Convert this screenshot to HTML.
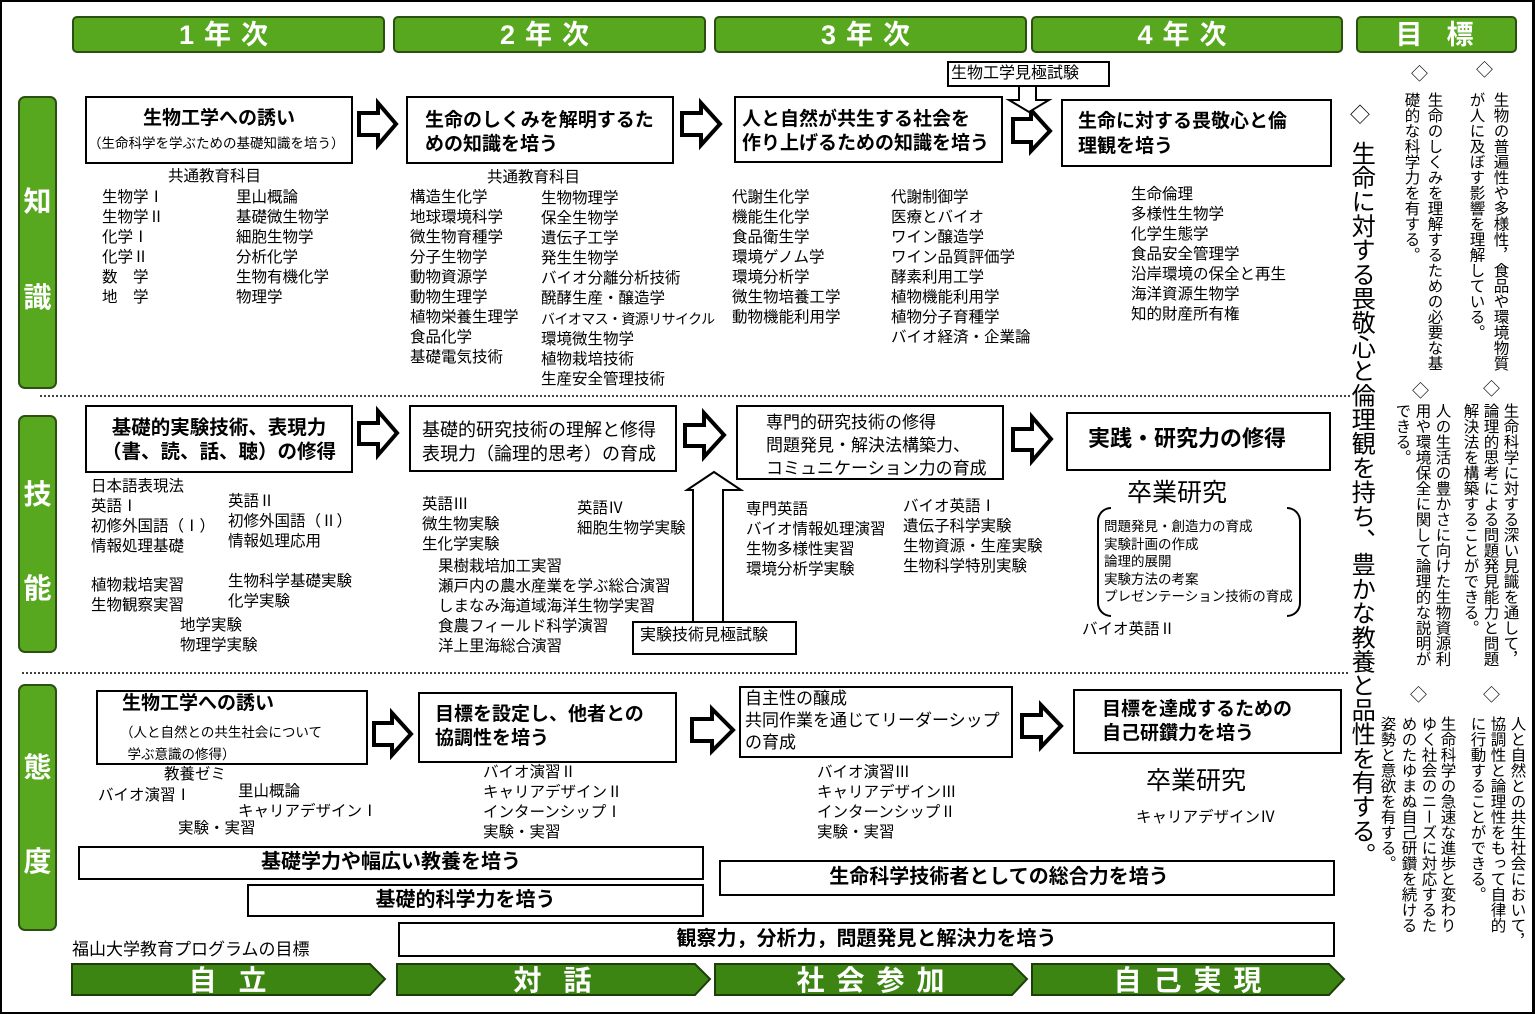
<!DOCTYPE html>
<html><head><meta charset="utf-8">
<style>
*{margin:0;padding:0;box-sizing:border-box}
body{width:1535px;height:1014px;position:relative;background:#fff;font-family:"Liberation Sans","Noto Sans CJK JP",sans-serif;color:#000;overflow:hidden}
.t{position:absolute;white-space:nowrap;line-height:1}
.l{position:absolute;white-space:nowrap;line-height:20px;font-size:15.5px;margin-top:1px}
.b{position:absolute;border:2px solid #000;background:#fff}
.hd{position:absolute;top:16px;height:37px;background:#58a81f;border:2px solid #2c4f12;border-radius:5px;color:#fff;font-size:27px;font-weight:bold;text-align:center;line-height:35px;letter-spacing:10px}
.side{position:absolute;left:18px;width:39px;background:#58a81f;border:2px solid #2c4f12;border-radius:7px;color:#fff;font-size:28px;font-weight:bold;text-align:center}
.v{position:absolute;writing-mode:vertical-rl;white-space:nowrap;font-size:15.5px;line-height:1}
.bt{font-weight:bold}
</style></head><body>
<div style="position:absolute;left:0;top:0;width:1535px;height:1014px;border:2px solid #000;border-right-width:3px"></div>

<div class="hd" style="left:72px;width:313px">1年次</div>
<div class="hd" style="left:393px;width:313px">2年次</div>
<div class="hd" style="left:714px;width:313px">3年次</div>
<div class="hd" style="left:1031px;width:312px">4年次</div>
<div class="hd" style="left:1356px;width:161px;letter-spacing:24px;padding-left:20px">目標</div>

<div class="side" style="top:96px;height:293px"><div style="position:absolute;top:82px;width:100%">知</div><div style="position:absolute;top:178px;width:100%">識</div></div>
<div class="side" style="top:415px;height:238px"><div style="position:absolute;top:56px;width:100%">技</div><div style="position:absolute;top:150px;width:100%">能</div></div>
<div class="side" style="top:684px;height:247px"><div style="position:absolute;top:60px;width:100%">態</div><div style="position:absolute;top:154px;width:100%">度</div></div>

<svg width="1535" height="1014" style="position:absolute;left:0;top:0">
<line x1="40" y1="396" x2="1350" y2="396" stroke="#000" stroke-width="1.5" stroke-dasharray="2,2"/>
<line x1="22" y1="673" x2="1350" y2="673" stroke="#000" stroke-width="1.5" stroke-dasharray="2,2"/>
<g fill="#fff" stroke="#000" stroke-width="4" stroke-linejoin="miter">
<polygon points="359,113 378,113 378,103 396,124 378,145 378,135 359,135"/>
<polygon points="682,113 701,113 701,103 720,124 701,145 701,135 682,135"/>
<polygon points="1013,119 1031,119 1031,110 1050,131 1031,151 1031,142 1013,142"/>
<polygon points="359,423 378,423 378,411 397,433 378,455 378,444 359,444"/>
<polygon points="685,425 704,425 704,413 724,435 704,457 704,446 685,446"/>
<polygon points="1013,429 1032,429 1032,417 1051,439 1032,461 1032,450 1013,450"/>
<polygon points="374,723 392,723 392,713 411,734 392,755 392,745 374,745"/>
<polygon points="692,719 712,719 712,709 733,730 712,751 712,741 692,741"/>
<polygon points="1022,715 1041,715 1041,705 1061,726 1041,747 1041,737 1022,737"/>
</g>
<g fill="#fff" stroke="#000" stroke-width="2">
<polygon points="1019,86 1036,86 1036,100 1049,100 1029,112 1009,100 1019,100"/>
<polygon points="693,622 693,490 687,490 714,472 741,490 723,490 723,622"/>
</g>
<g fill="#3d8512" stroke="#1d3d0a" stroke-width="2">
<polygon points="72,964 370,964 385,979 370,995 72,995"/>
<polygon points="397,964 695,964 710,979 695,995 397,995"/>
<polygon points="715,964 1012,964 1027,979 1012,995 715,995"/>
<polygon points="1032,964 1329,964 1344,979 1329,995 1032,995"/>
</g>
</svg>

<div class="t" style="left:72px;top:967px;width:313px;text-align:center;color:#fff;font-size:28px;font-weight:bold;letter-spacing:22px;padding-left:20px">自立</div>
<div class="t" style="left:397px;top:967px;width:313px;text-align:center;color:#fff;font-size:28px;font-weight:bold;letter-spacing:22px;padding-left:20px">対話</div>
<div class="t" style="left:715px;top:967px;width:313px;text-align:center;color:#fff;font-size:28px;font-weight:bold;letter-spacing:12px;padding-left:10px">社会参加</div>
<div class="t" style="left:1032px;top:967px;width:313px;text-align:center;color:#fff;font-size:28px;font-weight:bold;letter-spacing:12px;padding-left:10px">自己実現</div>

<div class="b" style="left:85px;top:96px;width:268px;height:68px"></div>
<div class="t bt" style="left:85px;top:109px;width:268px;text-align:center;font-size:19px">生物工学への誘い</div>
<div class="t" style="left:88px;top:137px;font-size:13.5px">（生命科学を学ぶための基礎知識を培う）</div>
<div class="b" style="left:406px;top:96px;width:268px;height:68px"></div>
<div class="t bt" style="left:425px;top:109px;font-size:19px;line-height:24px">生命のしくみを解明するた<br>めの知識を培う</div>
<div class="b" style="left:734px;top:96px;width:269px;height:67px"></div>
<div class="t bt" style="left:742px;top:108px;font-size:19px;line-height:24px">人と自然が共生する社会を<br>作り上げるための知識を培う</div>
<div class="b" style="left:947px;top:61px;width:163px;height:26px"></div>
<div class="t" style="left:951px;top:66px;font-size:16px">生物工学見極試験</div>
<div class="b" style="left:1061px;top:99px;width:271px;height:68px"></div>
<div class="t bt" style="left:1078px;top:109px;font-size:19px;line-height:25px">生命に対する畏敬心と倫<br>理観を培う</div>

<div class="l" style="left:168px;top:166px">共通教育科目</div>
<div class="l" style="left:102px;top:187px">生物学Ⅰ<br>生物学Ⅱ<br>化学Ⅰ<br>化学Ⅱ<br>数　学<br>地　学</div>
<div class="l" style="left:236px;top:187px">里山概論<br>基礎微生物学<br>細胞生物学<br>分析化学<br>生物有機化学<br>物理学</div>
<div class="l" style="left:487px;top:167px">共通教育科目</div>
<div class="l" style="left:410px;top:187px">構造生化学<br>地球環境科学<br>微生物育種学<br>分子生物学<br>動物資源学<br>動物生理学<br>植物栄養生理学<br>食品化学<br>基礎電気技術</div>
<div class="l" style="left:541px;top:188px">生物物理学<br>保全生物学<br>遺伝子工学<br>発生生物学<br>バイオ分離分析技術<br>醗酵生産・醸造学<br><span style="font-size:14px;letter-spacing:-0.6px">バイオマス・資源リサイクル</span><br>環境微生物学<br>植物栽培技術<br>生産安全管理技術</div>
<div class="l" style="left:732px;top:187px">代謝生化学<br>機能生化学<br>食品衛生学<br>環境ゲノム学<br>環境分析学<br>微生物培養工学<br>動物機能利用学</div>
<div class="l" style="left:891px;top:187px">代謝制御学<br>医療とバイオ<br>ワイン醸造学<br>ワイン品質評価学<br>酵素利用工学<br>植物機能利用学<br>植物分子育種学<br>バイオ経済・企業論</div>
<div class="l" style="left:1131px;top:184px">生命倫理<br>多様性生物学<br>化学生態学<br>食品安全管理学<br>沿岸環境の保全と再生<br>海洋資源生物学<br>知的財産所有権</div>

<div class="b" style="left:85px;top:405px;width:268px;height:68px"></div>
<div class="t bt" style="left:85px;top:416px;width:268px;text-align:center;font-size:19.5px;line-height:24px">基礎的実験技術、表現力<br>（書、読、話、聴）の修得</div>
<div class="b" style="left:409px;top:405px;width:268px;height:67px"></div>
<div class="t" style="left:422px;top:418px;font-size:18px;line-height:24px">基礎的研究技術の理解と修得<br>表現力（論理的思考）の育成</div>
<div class="b" style="left:736px;top:405px;width:268px;height:75px"></div>
<div class="t" style="left:766px;top:411px;font-size:17px;line-height:23px">専門的研究技術の修得<br>問題発見・解決法構築力、<br>コミュニケーション力の育成</div>
<div class="b" style="left:1066px;top:412px;width:265px;height:59px"></div>
<div class="t bt" style="left:1088px;top:428px;font-size:22px">実践・研究力の修得</div>
<div class="b" style="left:632px;top:621px;width:165px;height:34px"></div>
<div class="t" style="left:640px;top:628px;font-size:16px">実験技術見極試験</div>

<div class="l" style="left:91px;top:476px">日本語表現法<br>英語Ⅰ<br>初修外国語（Ⅰ）<br>情報処理基礎</div>
<div class="l" style="left:228px;top:491px">英語Ⅱ<br>初修外国語（Ⅱ）<br>情報処理応用</div>
<div class="l" style="left:91px;top:575px">植物栽培実習<br>生物観察実習</div>
<div class="l" style="left:228px;top:571px">生物科学基礎実験<br>化学実験</div>
<div class="l" style="left:180px;top:615px">地学実験<br>物理学実験</div>
<div class="l" style="left:422px;top:494px">英語Ⅲ<br>微生物実験<br>生化学実験</div>
<div class="l" style="left:577px;top:498px">英語Ⅳ<br>細胞生物学実験</div>
<div class="l" style="left:438px;top:556px">果樹栽培加工実習<br>瀬戸内の農水産業を学ぶ総合演習<br>しまなみ海道域海洋生物学実習<br>食農フィールド科学演習<br>洋上里海総合演習</div>
<div class="l" style="left:746px;top:499px">専門英語<br>バイオ情報処理演習<br>生物多様性実習<br>環境分析学実験</div>
<div class="l" style="left:903px;top:496px">バイオ英語Ⅰ<br>遺伝子科学実験<br>生物資源・生産実験<br>生物科学特別実験</div>
<div class="t" style="left:1127px;top:481px;font-size:25px">卒業研究</div>
<div style="position:absolute;left:1097px;top:507px;width:14px;height:110px;border:2px solid #000;border-right:none;border-radius:14px 0 0 14px"></div>
<div style="position:absolute;left:1287px;top:507px;width:14px;height:110px;border:2px solid #000;border-left:none;border-radius:0 14px 14px 0"></div>
<div class="t" style="left:1104px;top:518px;font-size:13.5px;line-height:17.5px">問題発見・創造力の育成<br>実験計画の作成<br>論理的展開<br>実験方法の考案<br>プレゼンテーション技術の育成</div>
<div class="l" style="left:1082px;top:619px">バイオ英語Ⅱ</div>

<div class="b" style="left:96px;top:690px;width:272px;height:75px"></div>
<div class="t bt" style="left:122px;top:694px;font-size:19px">生物工学への誘い</div>
<div class="t" style="left:120px;top:722px;font-size:13.5px;line-height:22px">（人と自然との共生社会について<br>&nbsp;&nbsp;学ぶ意識の修得）</div>
<div class="b" style="left:418px;top:692px;width:259px;height:71px"></div>
<div class="t bt" style="left:435px;top:703px;font-size:19px;line-height:24px">目標を設定し、他者との<br>協調性を培う</div>
<div class="b" style="left:739px;top:686px;width:274px;height:72px"></div>
<div class="t" style="left:745px;top:688px;font-size:17px;line-height:22px">自主性の醸成<br>共同作業を通じてリーダーシップ<br>の育成</div>
<div class="b" style="left:1073px;top:689px;width:269px;height:65px"></div>
<div class="t bt" style="left:1102px;top:698px;font-size:19px;line-height:24px">目標を達成するための<br>自己研鑽力を培う</div>

<div class="l" style="left:164px;top:764px">教養ゼミ</div>
<div class="l" style="left:98px;top:785px">バイオ演習Ⅰ</div>
<div class="l" style="left:238px;top:781px">里山概論<br>キャリアデザインⅠ</div>
<div class="l" style="left:178px;top:818px">実験・実習</div>
<div class="l" style="left:483px;top:762px">バイオ演習Ⅱ<br>キャリアデザインⅡ<br>インターンシップⅠ<br>実験・実習</div>
<div class="l" style="left:817px;top:762px">バイオ演習Ⅲ<br>キャリアデザインⅢ<br>インターンシップⅡ<br>実験・実習</div>
<div class="t" style="left:1146px;top:769px;font-size:25px">卒業研究</div>
<div class="l" style="left:1136px;top:807px">キャリアデザインⅣ</div>

<div class="b" style="left:78px;top:846px;width:626px;height:34px"></div>
<div class="t" style="left:78px;top:852px;width:626px;text-align:center;font-size:20px;font-weight:bold">基礎学力や幅広い教養を培う</div>
<div class="b" style="left:247px;top:884px;width:457px;height:33px"></div>
<div class="t" style="left:247px;top:890px;width:437px;text-align:center;font-size:20px;font-weight:bold">基礎的科学力を培う</div>
<div class="b" style="left:719px;top:860px;width:616px;height:36px"></div>
<div class="t" style="left:719px;top:867px;width:560px;text-align:center;font-size:20px;font-weight:bold">生命科学技術者としての総合力を培う</div>
<div class="b" style="left:398px;top:922px;width:937px;height:35px"></div>
<div class="t" style="left:398px;top:929px;width:937px;text-align:center;font-size:20px;font-weight:bold">観察力，分析力，問題発見と解決力を培う</div>
<div class="t" style="left:72px;top:941px;font-size:17px">福山大学教育プログラムの目標</div>

<div class="t" style="left:1350px;top:106px;font-size:20px">◇</div>
<div class="v" style="left:1348px;top:141px;font-size:24.2px">生命に対する畏敬心と倫理観を持ち、豊かな教養と品性を有する。</div>

<div class="t" style="left:1476px;top:62px;font-size:17px">◇</div>
<div class="v" style="left:1492px;top:92px">生物の普遍性や多様性，食品や環境物質</div>
<div class="v" style="left:1468px;top:92px">が人に及ぼす影響を理解している。</div>
<div class="t" style="left:1411px;top:66px;font-size:17px">◇</div>
<div class="v" style="left:1426px;top:92px">生命のしくみを理解するための必要な基</div>
<div class="v" style="left:1403px;top:92px">礎的な科学力を有する。</div>

<div class="t" style="left:1483px;top:381px;font-size:17px">◇</div>
<div class="v" style="left:1502px;top:403px">生命科学に対する深い見識を通して，</div>
<div class="v" style="left:1482px;top:403px">論理的思考による問題発見能力と問題</div>
<div class="v" style="left:1462px;top:403px">解決法を構築することができる。</div>
<div class="t" style="left:1412px;top:383px;font-size:17px">◇</div>
<div class="v" style="left:1434px;top:403px">人の生活の豊かさに向けた生物資源利</div>
<div class="v" style="left:1414px;top:403px">用や環境保全に関して論理的な説明が</div>
<div class="v" style="left:1394px;top:403px">できる。</div>

<div class="t" style="left:1483px;top:687px;font-size:17px">◇</div>
<div class="v" style="left:1509px;top:716px">人と自然との共生社会において，</div>
<div class="v" style="left:1489px;top:716px">協調性と論理性をもって自律的</div>
<div class="v" style="left:1469px;top:716px">に行動することができる。</div>
<div class="t" style="left:1410px;top:687px;font-size:17px">◇</div>
<div class="v" style="left:1439px;top:716px">生命科学の急速な進歩と変わり</div>
<div class="v" style="left:1420px;top:716px">ゆく社会のニーズに対応するた</div>
<div class="v" style="left:1400px;top:716px">めのたゆまぬ自己研鑽を続ける</div>
<div class="v" style="left:1379px;top:716px">姿勢と意欲を有する。</div>
</body></html>
